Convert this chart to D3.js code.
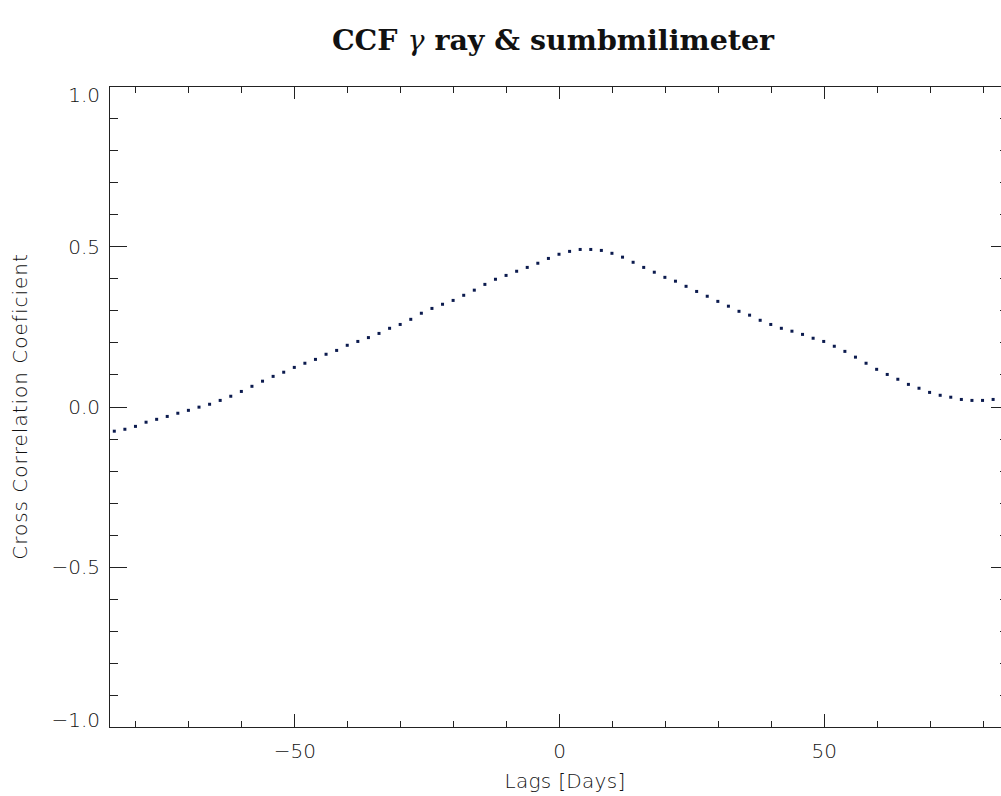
<!DOCTYPE html>
<html>
<head>
<meta charset="utf-8">
<script src="https://cdn.jsdelivr.net/npm/d3@7"></script>
<style>
  html, body { margin: 0; padding: 0; background: #fff; }
  svg { display: block; }
  .tick-label { font-family: "DejaVu Sans", sans-serif; font-weight: 200; font-size: 20px; fill: #111; }
  .axis-title { font-family: "DejaVu Sans", sans-serif; font-weight: 200; font-size: 20px; fill: #111; }
</style>
</head>
<body>
<svg id="chart" width="1001" height="796"></svg>
<script>
// lags in days, one point every 2 days
const lags = d3.range(-84, 83, 2);

// cross correlation coefficient
const ccf = [
  -0.077, -0.071, -0.062, -0.049, -0.040, -0.031, -0.021, -0.012, -0.002, 0.007,
   0.019,  0.032,  0.047,  0.063,  0.079,  0.094,  0.107,  0.122,  0.135, 0.147,
   0.163,  0.175,  0.191,  0.203,  0.215,  0.228,  0.244,  0.256,  0.272, 0.291,
   0.306,  0.319,  0.331,  0.347,  0.363,  0.381,  0.397,  0.409,  0.422, 0.434,
   0.447,  0.462,  0.475,  0.484,  0.490,  0.490,  0.487,  0.478,  0.466, 0.450,
   0.434,  0.419,  0.403,  0.391,  0.375,  0.359,  0.344,  0.328,  0.313, 0.297,
   0.285,  0.269,  0.256,  0.244,  0.235,  0.225,  0.213,  0.203,  0.188, 0.172,
   0.154,  0.135,  0.116,  0.100,  0.085,  0.069,  0.057,  0.044,  0.035, 0.029,
   0.022,  0.019,  0.019,  0.022
];

const xMajor = [-50, 0, 50];
const xMinor = d3.range(-80, 81, 10);
const yMajor = [-1.0, -0.5, 0.0, 0.5, 1.0];
const yMinor = d3.range(-10, 11).map(d => d / 10);

const xDomain = [-85, 85];
const yDomain = [-1, 1];

const svg = d3.select('#chart');
const margin = { top: 86, left: 109 };
const width = 900, height = 641;

const x = d3.scaleLinear().domain(xDomain).range([margin.left, margin.left + width]);
const y = d3.scaleLinear().domain(yDomain).range([margin.top + height, margin.top]);

const xLen = Math.round(height * 0.02);  // IDL-style tick length
const yLen = Math.round(width * 0.02);
const fmtY = d => d3.format('.1f')(d).replace('-', '\u2212');
const fmtX = d => String(d).replace('-', '\u2212');

function styleAxis(g) {
  g.selectAll('path.domain').attr('stroke', '#222').attr('stroke-width', 1).attr('shape-rendering', 'crispEdges');
  g.selectAll('.tick line').attr('stroke', '#222').attr('stroke-width', 1).attr('shape-rendering', 'crispEdges');
  g.selectAll('.tick text').attr('class', 'tick-label').attr('fill', null).attr('font-size', null).attr('font-family', null);
}

// minor ticks on all sides
svg.append('g').attr('transform', `translate(0,${y(-1)})`)
  .call(d3.axisBottom(x).tickValues(xMinor).tickSize(-xLen / 2).tickSizeOuter(0).tickFormat(''))
  .call(styleAxis);
svg.append('g').attr('transform', `translate(0,${y(1)})`)
  .call(d3.axisTop(x).tickValues(xMinor).tickSize(-xLen / 2).tickSizeOuter(0).tickFormat(''))
  .call(styleAxis);
svg.append('g').attr('transform', `translate(${x(-85)},0)`)
  .call(d3.axisLeft(y).tickValues(yMinor).tickSize(-yLen / 2).tickSizeOuter(0).tickFormat(''))
  .call(styleAxis);
svg.append('g').attr('transform', `translate(${x(85)},0)`)
  .call(d3.axisRight(y).tickValues(yMinor).tickSize(-yLen / 2).tickSizeOuter(0).tickFormat(''))
  .call(styleAxis);

// major ticks with labels
svg.append('g').attr('transform', `translate(0,${y(-1)})`)
  .call(d3.axisBottom(x).tickValues(xMajor).tickSize(-xLen).tickSizeOuter(0).tickPadding(17).tickFormat(fmtX))
  .call(styleAxis);
svg.append('g').attr('transform', `translate(0,${y(1)})`)
  .call(d3.axisTop(x).tickValues(xMajor).tickSize(-xLen).tickSizeOuter(0).tickFormat(''))
  .call(styleAxis);
const yAxisG = svg.append('g').attr('transform', `translate(${x(-85)},0)`)
  .call(d3.axisLeft(y).tickValues(yMajor).tickSize(-yLen).tickSizeOuter(0).tickPadding(9).tickFormat(fmtY))
  .call(styleAxis);
svg.append('g').attr('transform', `translate(${x(85)},0)`)
  .call(d3.axisRight(y).tickValues(yMajor).tickSize(-yLen).tickSizeOuter(0).tickFormat(''))
  .call(styleAxis);

// end labels are nudged inside the axis range
yAxisG.selectAll('.tick text')
  .attr('dy', d => d === 1 ? '0.75em' : d === -1 ? '-0.05em' : '0.35em');

// data points
svg.append('g')
  .selectAll('rect')
  .data(lags.map((d, i) => ({ lag: d, r: ccf[i] })))
  .join('rect')
  .attr('x', d => x(d.lag) - 1.5)
  .attr('y', d => y(d.r) - 1.5)
  .attr('width', 3)
  .attr('height', 3)
  .attr('fill', '#0b1a4e');

// titles
svg.append('text')
  .attr('x', 553).attr('y', 50)
  .attr('text-anchor', 'middle')
  .attr('font-family', '"DejaVu Serif", serif')
  .attr('font-size', 28.5)
  .attr('fill', '#111')
  .call(t => {
    t.append('tspan').attr('font-weight', 'bold').text('CCF ');
    t.append('tspan').attr('font-style', 'italic').text('\u03b3');
    t.append('tspan').attr('font-weight', 'bold').text(' ray & sumbmilimeter');
  });

svg.append('text')
  .attr('class', 'axis-title')
  .attr('x', 565).attr('y', 788)
  .attr('text-anchor', 'middle')
  .attr('letter-spacing', 0.3)
  .text('Lags [Days]');

svg.append('text')
  .attr('class', 'axis-title')
  .attr('transform', `translate(27,${y(0)}) rotate(-90)`)
  .attr('text-anchor', 'middle')
  .attr('letter-spacing', 1)
  .text('Cross Correlation Coeficient');
</script>
</body>
</html>
